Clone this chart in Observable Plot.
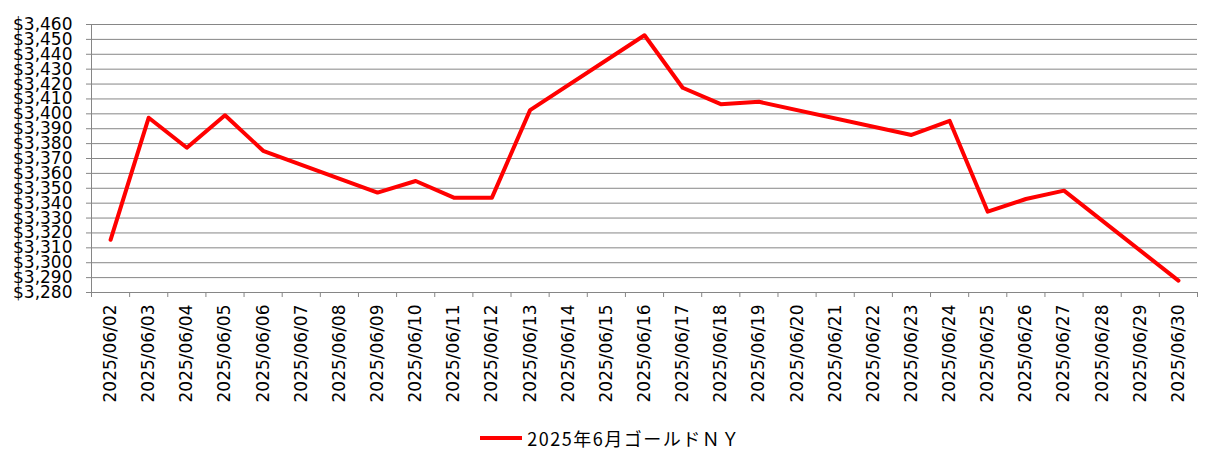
<!DOCTYPE html>
<html>
<head>
<meta charset="utf-8">
<script src="https://cdn.jsdelivr.net/npm/d3@7"></script>
<script src="https://cdn.jsdelivr.net/npm/@observablehq/plot@0.6"></script>
<style>
  html, body { margin: 0; padding: 0; background: #fff; }
  #chart svg { display: block; }
  #legend { display: flex; justify-content: center; align-items: center; height: 36px;
            font-family: "Noto Sans CJK JP", sans-serif; font-size: 18px; color: #000; letter-spacing: 1.5px; }
  #legend .swatch { width: 42px; height: 4px; background: #ff0000; margin-right: 5px; }
</style>
</head>
<body>
<div id="chart"></div>
<div id="legend"><span class="swatch"></span><span id="legend-label"></span></div>
<script>
// Categories on the x axis (every calendar day)
const dates = [
  "2025/06/02","2025/06/03","2025/06/04","2025/06/05","2025/06/06","2025/06/07","2025/06/08",
  "2025/06/09","2025/06/10","2025/06/11","2025/06/12","2025/06/13","2025/06/14","2025/06/15",
  "2025/06/16","2025/06/17","2025/06/18","2025/06/19","2025/06/20","2025/06/21","2025/06/22",
  "2025/06/23","2025/06/24","2025/06/25","2025/06/26","2025/06/27","2025/06/28","2025/06/29",
  "2025/06/30"
];
// Trading days with a price
const tradeDates = [
  "2025/06/02","2025/06/03","2025/06/04","2025/06/05","2025/06/06",
  "2025/06/09","2025/06/10","2025/06/11","2025/06/12","2025/06/13",
  "2025/06/16","2025/06/17","2025/06/18","2025/06/19",
  "2025/06/23","2025/06/24","2025/06/25","2025/06/26","2025/06/27",
  "2025/06/30"
];
const prices = [
  3315.4, 3397.4, 3377.2, 3399.0, 3375.2,
  3347.1, 3354.9, 3343.7, 3343.7, 3402.5,
  3452.8, 3417.5, 3406.5, 3408.1,
  3385.8, 3395.3, 3334.3, 3342.8, 3348.4,
  3288.0
];
const seriesName = "2025年6月ゴールドＮＹ";
const yTicks = d3.range(3280, 3461, 10);
const yDomain = [3280, 3460];

const data = tradeDates.map((d, i) => ({ x: dates.indexOf(d), price: prices[i] }));
const idx = dates.map((d, i) => i);
const xDomain = [-0.5, dates.length - 0.5];
const boundaries = d3.range(dates.length + 1).map(i => i - 0.5);

const gray = "#868686";
const font = "DejaVu Sans, sans-serif";

const chart = Plot.plot({
  width: 1221,
  height: 420,
  marginTop: 24,
  marginBottom: 128,
  marginLeft: 91,
  marginRight: 24,
  style: { fontFamily: font, fontSize: "17px", color: "#000", background: "#fff" },
  x: { type: "linear", domain: xDomain },
  y: { domain: yDomain },
  marks: [
    Plot.gridY(yTicks, { stroke: gray, strokeOpacity: 1, strokeWidth: 1 }),
    Plot.ruleX([xDomain[0]], { stroke: gray, strokeWidth: 1 }),
    Plot.axisY(yTicks, {
      tickSize: 5, tickPadding: 14, stroke: gray, strokeOpacity: 1,
      tickFormat: d => "$" + d3.format(",")(d),
      fill: "#000", fontSize: 17, label: null
    }),
    Plot.axisX(boundaries, { tickSize: 5, stroke: gray, strokeOpacity: 1, tickFormat: () => "", label: null }),
    Plot.axisX(idx, {
      tickSize: 0, tickPadding: 12, tickRotate: -90,
      tickFormat: i => dates[i], fill: "#000", fontSize: 17, label: null
    }),
    Plot.line(data, { x: "x", y: "price", stroke: "#ff0000", strokeWidth: 4, strokeLinejoin: "round", strokeLinecap: "round" })
  ]
});
document.getElementById("chart").appendChild(chart);
document.getElementById("legend-label").textContent = seriesName;
</script>
</body>
</html>
